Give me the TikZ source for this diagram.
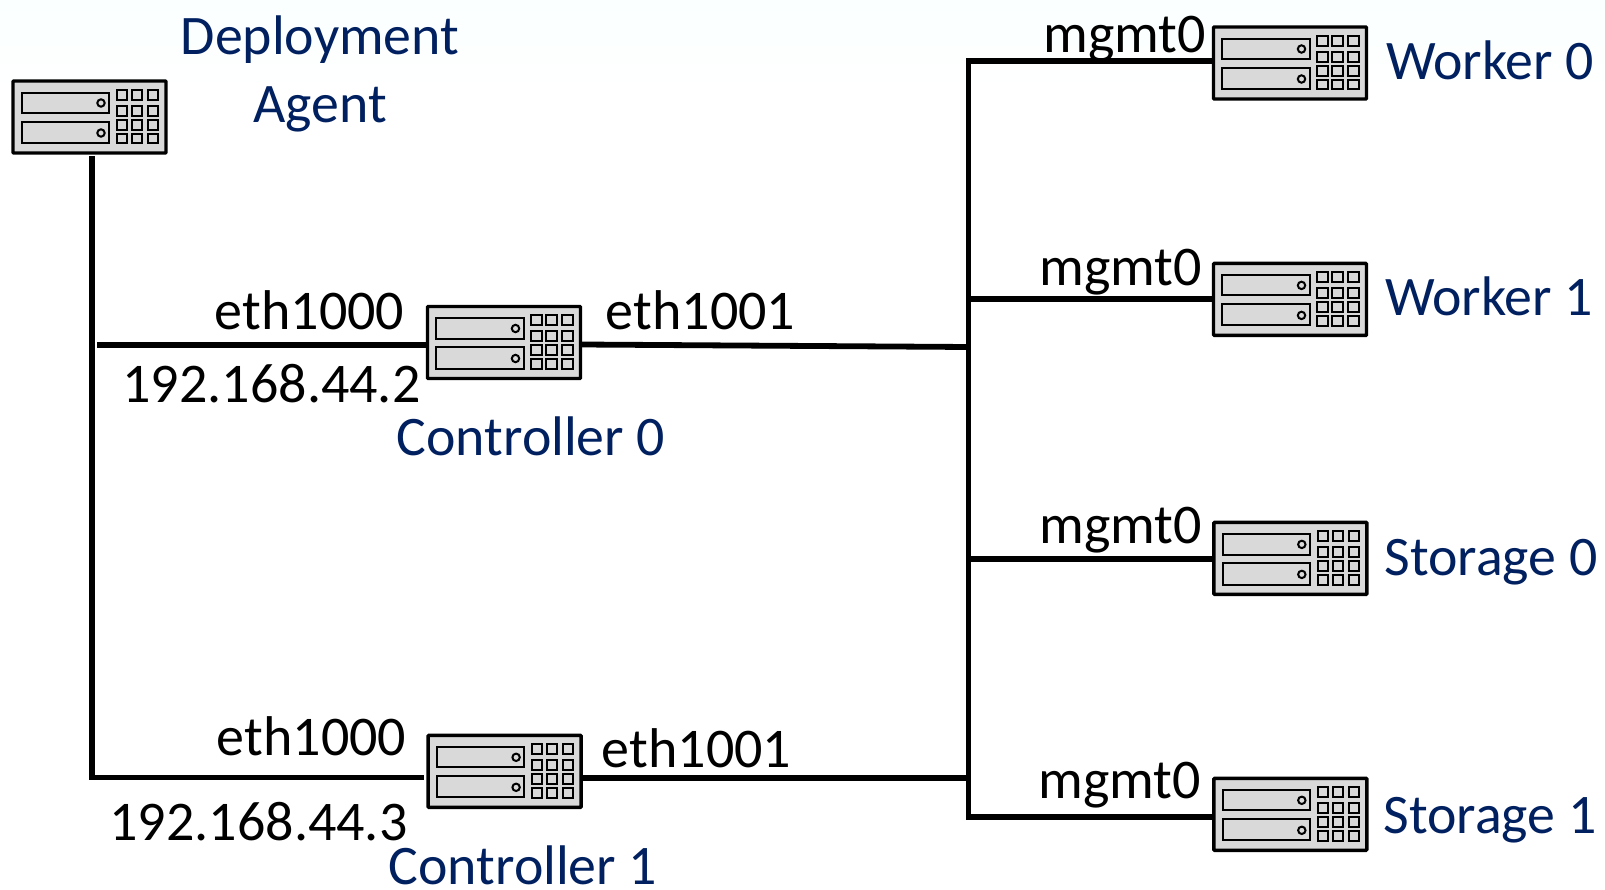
\documentclass[tikz,border=0pt]{standalone}
\usepackage{fontspec}
\setmainfont{Carlito}
\definecolor{navy}{HTML}{002060}
\definecolor{srv}{HTML}{D9D9D9}
\tikzset{
  x=1pt,y=-1pt,
  link/.style={line width=5.8pt,black},
  serverbox/.style={draw=black,fill=srv,line width=3.4pt,rectangle,minimum width=153pt,minimum height=72pt,inner sep=0pt,rounded corners=0.8pt},
  part/.style={draw=black,fill=srv,line width=2pt},
  lab/.style={font=\fontsize{56}{56}\selectfont,text=black,anchor=base,inner sep=0pt,yshift=-1.8pt,xshift=0.5pt},
  bluelab/.style={font=\fontsize{55.8}{56}\selectfont,text=navy,anchor=base,inner sep=0pt,yshift=-1.5pt,xshift=1pt}
}
\newcommand{\serverat}[2]{%
  \node[serverbox] (#1) at (#2) {};
  \begin{scope}[shift={(#2)}]
    \draw[part] (-67.6,-24.1) rectangle (19.6,-3.9);
    \draw[part] (-67.6,4.9) rectangle (19.6,26.1);
    \draw[part] (11.5,-14) circle (3.7);
    \draw[part] (11.5,16) circle (3.7);
    \foreach \cx in {27.4,42.4,58.4}
      \foreach \cy/\ch in {-27.1/10,-11.1/10,2.9/10,16.9/9.3}
        \draw[part] (\cx,\cy) rectangle ++(10.2,\ch);
  \end{scope}}
\begin{document}
\begin{tikzpicture}
\useasboundingbox (0,0) rectangle (1605,890);
\fill[white] (0,0) rectangle (1605,890);
\shade[top color=blue!1!cyan!2!white,bottom color=white,draw=none] (0,0) rectangle (1605,90);

\coordinate (busTop) at (968.5,61.4);
\coordinate (busBot) at (968.5,817);
\coordinate (busC0) at (968.5,347);
\coordinate (busC1) at (968.5,778);
\coordinate (busW1) at (968.5,299);
\coordinate (busS0) at (968.5,559);
\coordinate (leftDrop) at (92,156);
\coordinate (leftCorner) at (92,777.5);
\coordinate (c1End) at (424,777.5);
\coordinate (c0Start) at (97,345);
\coordinate (c0In) at (428,345);
\coordinate (c0Out) at (581,344.5);
\coordinate (c1Out) at (581,778);
\coordinate (w0In) at (1214,61.4);
\coordinate (w1In) at (1214,299);
\coordinate (s0In) at (1214,559);
\coordinate (s1In) at (1214,817);

\draw[link,line join=miter] (leftDrop) -- (leftCorner) -- (c1End);
\draw[link] (c0Start) -- (c0In);
\draw[link] (c0Out) -- (busC0);
\draw[link] (c1Out) -- (busC1);
\draw[link,line join=miter] (w0In) -- (busTop) -- (busBot) -- (s1In);
\draw[link] (busW1) -- (w1In);
\draw[link] (busS0) -- (s0In);

\serverat{dep}{89.5,117}
\serverat{ctrlA}{504,342.5}
\serverat{ctrlB}{504.6,771.3}
\serverat{wrkA}{1290,63}
\serverat{wrkB}{1290,299.4}
\serverat{stoA}{1290.3,558.4}
\serverat{stoB}{1290.3,814.3}

\node[bluelab] (tDep) at (319,53.5) {Deployment};
\node[bluelab] (tAg) at (319,121) {Agent};
\node[bluelab] (tC0) at (530,453.5) {Controller 0};
\node[bluelab] (tC1) at (522,883) {Controller 1};
\node[bluelab] (tW0) at (1489,78) {Worker 0};
\node[bluelab] (tW1) at (1488,314) {Worker 1};
\node[bluelab] (tS0) at (1490,574) {Storage 0};
\node[bluelab] (tS1) at (1489,832) {Storage 1};
\node[lab] (e0) at (309,327.5) {eth1000};
\node[lab] (ip0) at (271,401) {192.168.44.2};
\node[lab] (f0) at (700,327.5) {eth1001};
\node[lab] (e1) at (311,754) {eth1000};
\node[lab] (ip1) at (258,839) {192.168.44.3};
\node[lab] (f1) at (696,766) {eth1001};
\node[lab] (m0) at (1124,51) {mgmt0};
\node[lab] (m1) at (1120,283.5) {mgmt0};
\node[lab] (m2) at (1120,541.5) {mgmt0};
\node[lab] (m3) at (1119,797) {mgmt0};
\end{tikzpicture}
\end{document}
